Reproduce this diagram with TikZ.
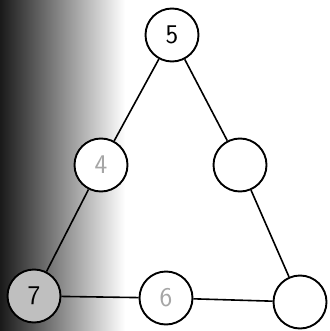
\documentclass[tikz,border=0pt]{standalone}
\begin{document}
\begin{tikzpicture}
		[x=1pt,y=-1pt,
		ring/.style={circle,draw,fill=white,line width=1.9pt,minimum size=53pt,inner sep=0pt,font=\sffamily\fontsize{27}{27}\selectfont},
		faint/.style={text=black!35},
		link/.style={line width=1.6pt}]
		\useasboundingbox (0,0) rectangle (329,331);
		\fill[left color=black!90,right color=white] (0,0) rectangle (125,331);
		\node[ring] (top) at (172,35) {5};
		\node[ring,faint] (midleft) at (101,165) {4};
		\node[ring] (midright) at (240,165) {};
		\node[ring,fill=white!75!black] (botleft) at (34,296) {7};
		\node[ring,faint] (botmid) at (166,298) {6};
		\node[ring] (botright) at (300,302) {};
		\draw[link] (top) -- (midleft);
		\draw[link] (midleft) -- (botleft);
		\draw[link] (top) -- (midright);
		\draw[link] (midright) -- (botright);
		\draw[link] (botleft) -- (botmid);
		\draw[link] (botmid) -- (botright);
	\end{tikzpicture}
\end{document}
